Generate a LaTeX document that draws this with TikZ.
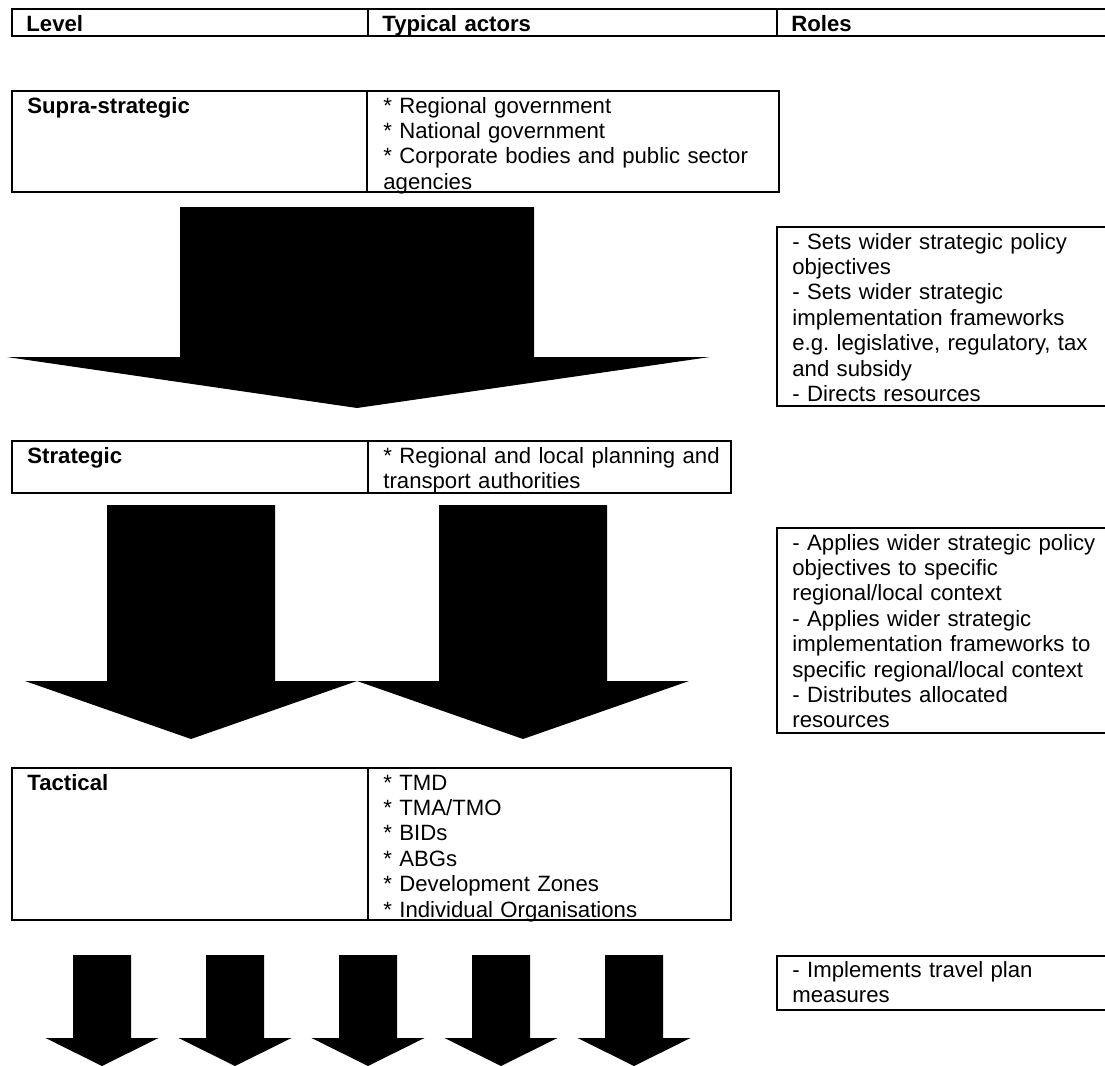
\documentclass[tikz,border=0pt]{standalone}
\usepackage{fontspec}
\setmainfont{Liberation Sans}
\frenchspacing
\begin{document}
\begin{tikzpicture}[x=0.5pt,y=-0.5pt,
  cell/.style={draw=black,line width=0.75pt},
  txt/.style={anchor=base west,inner sep=0pt,align=left,text width=250pt,
    font=\fontsize{11.08pt}{12.7pt}\selectfont},
  boldtxt/.style={txt,font=\fontsize{11.08pt}{12.7pt}\selectfont\bfseries},
  blockarrow/.style={fill=black}]
\useasboundingbox (0,0) rectangle (1105,1066);
\fill[white] (0,0) rectangle (1105,1066);

% column headings
\draw[cell] (12,9) rectangle (1130,36);
\draw[cell] (368,9) -- (368,36);
\draw[cell] (777,9) -- (777,36);
\node[boldtxt] (hlevel) at (26,31) {Level};
\node[boldtxt] (hactors) at (382,31) {Typical actors};
\node[boldtxt] (hroles) at (791,31) {Roles};

% supra-strategic level
\draw[cell] (12,91) rectangle (779,192);
\draw[cell] (367,91) -- (367,192);
\node[boldtxt] (supra) at (27,113) {Supra-strategic};
\node[txt] (supraact) at (383,113) {* Regional government\\\relax
  * National government\\\relax
  * Corporate bodies and public sector\\\relax
  agencies};

% strategic level
\draw[cell] (12,441) rectangle (731,493);
\draw[cell] (368,441) -- (368,493);
\node[boldtxt] (strat) at (27,463) {Strategic};
\node[txt] (stratact) at (383,463) {* Regional and local planning and\\\relax
  transport authorities};

% tactical level
\draw[cell] (12,768) rectangle (731,920);
\draw[cell] (368,768) -- (368,920);
\node[boldtxt] (tact) at (27,790) {Tactical};
\node[txt] (tactact) at (383,790) {* TMD\\\relax
  * TMA/TMO\\\relax
  * BIDs\\\relax
  * ABGs\\\relax
  * Development Zones\\\relax
  * Individual Organisations};

% roles
\draw[cell] (777,227) rectangle (1130,406);
\node[txt] (roleA) at (792,249) {- Sets wider strategic policy\\objectives\\- Sets wider strategic\\implementation frameworks\\e.g. legislative, regulatory, tax\\and subsidy\\- Directs resources};
\draw[cell] (777,528) rectangle (1130,733);
\node[txt] (roleB) at (792,550) {- Applies wider strategic policy\\objectives to specific\\regional/local context\\- Applies wider strategic\\implementation frameworks to\\specific regional/local context\\- Distributes allocated\\resources};
\draw[cell] (777,956) rectangle (1130,1010);
\node[txt] (roleC) at (792,977) {- Implements travel plan\\measures};

% block arrows: one wide, two medium, five narrow
\fill[blockarrow] (180,207) -- (534,207) -- (534,357) -- (710,357) -- (357,408)
  -- (7,357) -- (180,357) -- cycle;
\foreach \c in {191,523}{
  \fill[blockarrow] (\c-84,505) -- (\c+84,505) -- (\c+84,681) -- (\c+166,681)
    -- (\c,739) -- (\c-166,681) -- (\c-84,681) -- cycle;
}
\foreach \k in {0,...,4}{
  \pgfmathsetmacro{\c}{102+133*\k}
  \fill[blockarrow] (\c-29,955) -- (\c+29,955) -- (\c+29,1038) -- (\c+56.5,1038)
    -- (\c,1066) -- (\c-56.5,1038) -- (\c-29,1038) -- cycle;
}
\end{tikzpicture}
\end{document}
